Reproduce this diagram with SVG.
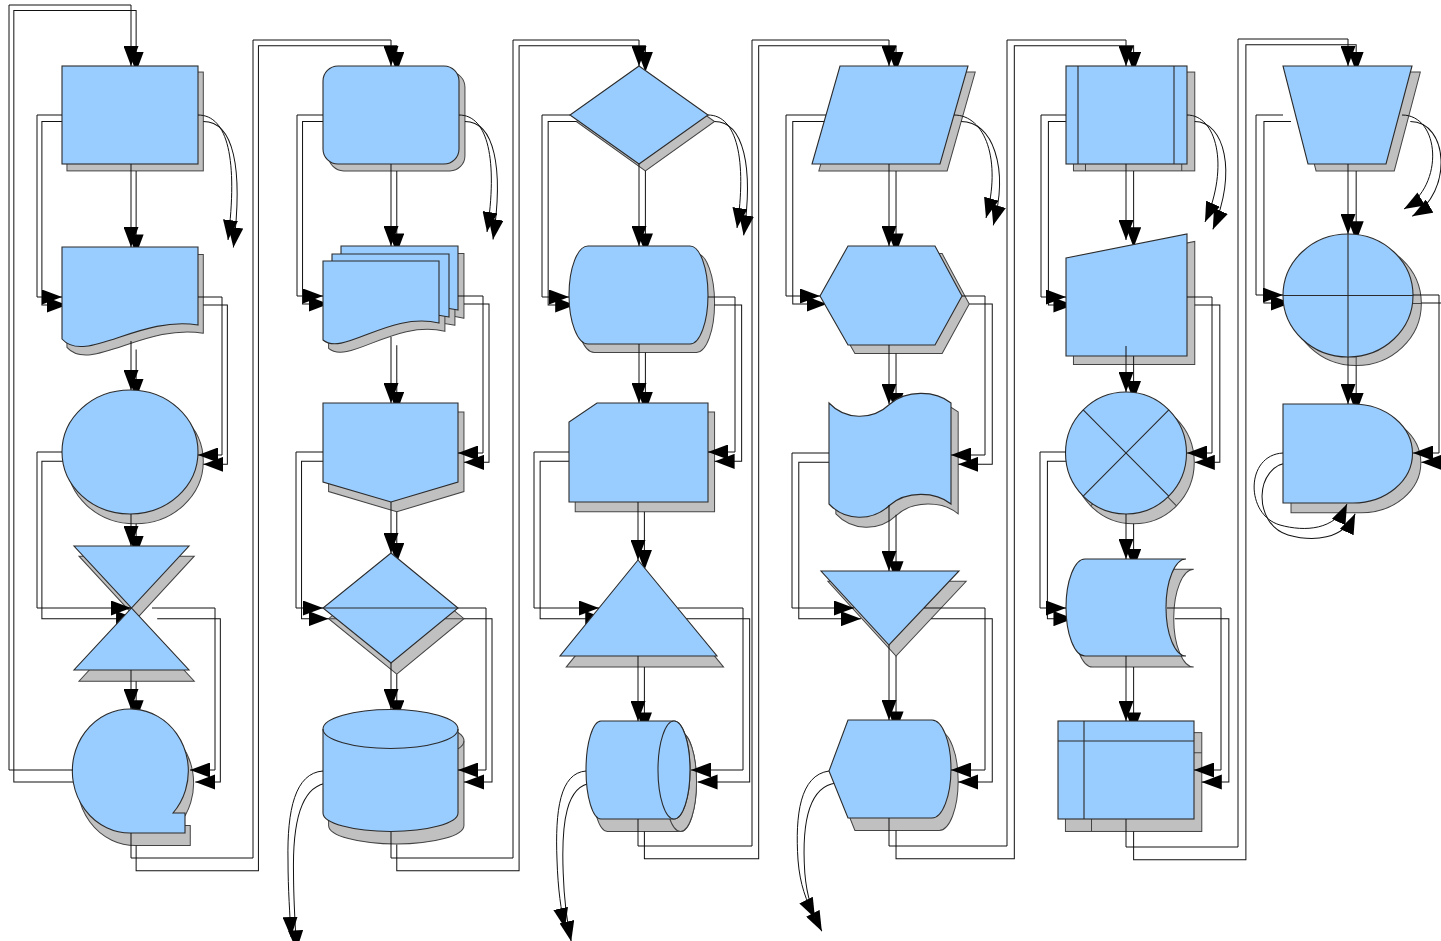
<svg xmlns="http://www.w3.org/2000/svg" xmlns:xlink="http://www.w3.org/1999/xlink" width="1441" height="941" viewBox="0 0 1441 941">
<defs>
<style>
.conn{fill:none;stroke:#111;stroke-width:1;marker-end:url(#arr)}
.det{fill:none}
</style>
<marker id="arr" markerUnits="userSpaceOnUse" markerWidth="20" markerHeight="15" viewBox="0 0 20 15" refX="20" refY="7.5" orient="auto">
<path d="M0,0 L20,7.5 L0,15 Z" fill="#000" stroke="none"/>
</marker>
</defs>
<rect width="1441" height="941" fill="#ffffff"/>
<use href="#diagram" xlink:href="#diagram" transform="matrix(1.0025,0,0,1.0085,4.8,5.5)" fill="#c0c0c0" stroke="#444444"/>
<g fill="#99ccff" stroke="#2b2b2b" stroke-width="1.1">
<g id="diagram">
<g id="nodes">
<g id="c1n1"><rect x="62" y="66" width="136" height="98"/></g>
<g id="c1n2"><path d="M62,247 H198 V325 C140,315 85,365 62,339 Z"/></g>
<g id="c1n3"><ellipse cx="130" cy="452" rx="68" ry="62"/></g>
<g id="c1n4"><path d="M74,546 H189 L74,670 H189 Z"/></g>
<g id="c1n5"><path d="M131,833 A58,62 0 1 1 173,813 H185 V833 Z"/></g>

<g id="c2n1"><rect x="323" y="66" width="136" height="98" rx="15" ry="15"/></g>
<g id="c2n2">
<path d="M341,246 H458 V310 C407,298 361,343 341,326 Z"/>
<path d="M332,254 H449 V317 C398,305 352,350 332,333 Z"/>
<path d="M323,261 H439 V323 C389,311 343,357 323,340 Z"/>
</g>
<g id="c2n3"><path d="M323,403 H458 V482 L391,502 L323,482 Z"/></g>
<g id="c2n4"><path d="M391,553 L458,608 L391,663 L323,608 Z"/><path class="det" d="M323,608 H458"/></g>
<g id="c2n5"><path d="M323,729 A67.5,19.5 0 0 1 458,729 V813 A67.5,18.5 0 0 1 323,813 Z"/><path class="det" d="M323,729 A67.5,19.5 0 0 0 458,729"/></g>

<g id="c3n1"><path d="M639,66 L708,115 L639,164 L570,115 Z"/></g>
<g id="c3n2"><path d="M588,246 H690 A18,49 0 0 1 690,344 H588 A19,49 0 0 1 588,246 Z"/></g>
<g id="c3n3"><path d="M597,403 H708 V502 H569 V422 Z"/></g>
<g id="c3n4"><path d="M638,560 L717,656 H560 Z"/></g>
<g id="c3n5"><path d="M601,721 H674 A16,49 0 0 1 674,819 H601 A15,49 0 0 1 601,721 Z"/><ellipse cx="674" cy="770" rx="16" ry="49"/></g>

<g id="c4n1"><path d="M840,66 H968 L940,164 H812 Z"/></g>
<g id="c4n2"><path d="M848,246 H935 L962,296 L935,345 H848 L820,296 Z"/></g>
<g id="c4n3"><path d="M829,403 C845,420 872,421 890,404 C906,390 935,390 951,403 V504 C935,491 906,491 890,505 C872,522 845,521 829,504 Z"/></g>
<g id="c4n4"><path d="M821,571 H959 L889,645 Z"/></g>
<g id="c4n5"><path d="M829,771 L848,720 H932 A19,49 0 0 1 932,818 H848 Z"/></g>

<g id="c5n1"><rect x="1066" y="66" width="121" height="98"/><path class="det" d="M1078,66 V164 M1174,66 V164"/></g>
<g id="c5n2"><path d="M1066,258 L1187,234 V356 H1066 Z"/></g>
<g id="c5n3"><ellipse cx="1126" cy="453" rx="60.5" ry="61"/><path class="det" d="M1083.2,409.9 L1168.8,496.1 M1168.8,409.9 L1083.2,496.1"/></g>
<g id="c5n4"><path d="M1085,559 H1186 A20,48.5 0 0 0 1186,656 H1085 A19,48.5 0 0 1 1085,559 Z"/></g>
<g id="c5n5"><rect x="1058" y="721" width="136" height="98"/><path class="det" d="M1058,741 H1194 M1084,721 V819"/></g>

<g id="c6n1"><path d="M1283,66 H1412 L1386,164 H1308 Z"/></g>
<g id="c6n2"><ellipse cx="1348" cy="295.5" rx="65" ry="61.5"/><path class="det" d="M1348,234 V357 M1283,295.5 H1413"/></g>
<g id="c6n3"><path d="M1283,404 H1353 A59.5,49.5 0 0 1 1353,503 H1283 Z"/></g>
</g>
<g id="connectors">
<path class="conn" d="M131,164 V247"/>
<path class="conn" d="M62,115 H37 V297 H62"/>
<path class="conn" d="M198,115 C228,115 238,160 228,240"/>
<path class="conn" d="M198,297 H222 V455 H198"/>
<path class="conn" d="M131,341 V390"/>
<path class="conn" d="M62,452 H37 V608 H131"/>
<path class="conn" d="M131,514 V546"/>
<path class="conn" d="M152,608 H215 V770 H190"/>
<path class="conn" d="M131,670 V709"/>
<path class="conn" d="M73,770 H9 V5 H131 V66"/>
<path class="conn" d="M131,833 V858 H253 V40 H391 V66"/>

<path class="conn" d="M391,164 V246"/>
<path class="conn" d="M323,115 H297 V296 H323"/>
<path class="conn" d="M459,115 C488,115 498,160 487,232"/>
<path class="conn" d="M458,296 H483 V453 H458"/>
<path class="conn" d="M391,337 V403"/>
<path class="conn" d="M323,452 H296 V608 H323"/>
<path class="conn" d="M391,502 V553"/>
<path class="conn" d="M458,608 H486 V770 H458"/>
<path class="conn" d="M391,663 V709"/>
<path class="conn" d="M323,771 C295,773 287,810 288,860 C288,890 290,915 291,937"/>
<path class="conn" d="M391,832 V858 H513 V40 H639 V66"/>

<path class="conn" d="M639,164 V246"/>
<path class="conn" d="M570,115 H542 V297 H569"/>
<path class="conn" d="M708,115 C737,115 747,160 737,228"/>
<path class="conn" d="M708,297 H735 V452 H708"/>
<path class="conn" d="M639,344 V403"/>
<path class="conn" d="M569,452 H534 V608 H599"/>
<path class="conn" d="M638,502 V560"/>
<path class="conn" d="M678,608 H743 V770 H691"/>
<path class="conn" d="M638,656 V721"/>
<path class="conn" d="M586,771 C560,773 555,810 557,860 C558,890 561,910 565,928"/>
<path class="conn" d="M638,819 V846 H752 V40 H889 V66"/>

<path class="conn" d="M889,164 V246"/>
<path class="conn" d="M826,115 H786 V296 H820"/>
<path class="conn" d="M954,115 C985,115 1002,160 986,218"/>
<path class="conn" d="M962,296 H985 V455 H951"/>
<path class="conn" d="M889,345 V404"/>
<path class="conn" d="M829,453 H792 V608 H854"/>
<path class="conn" d="M889,505 V571"/>
<path class="conn" d="M924,608 H985 V770 H951"/>
<path class="conn" d="M889,645 V720"/>
<path class="conn" d="M829,771 C800,775 795,815 798,860 C800,885 806,900 815,918"/>
<path class="conn" d="M889,818 V846 H1007 V40 H1126 V66"/>

<path class="conn" d="M1126,164 V240"/>
<path class="conn" d="M1066,115 H1041 V297 H1066"/>
<path class="conn" d="M1187,115 C1216,115 1230,165 1205,222"/>
<path class="conn" d="M1187,297 H1212 V453 H1187"/>
<path class="conn" d="M1126,346 V392"/>
<path class="conn" d="M1066,452 H1040 V608 H1066"/>
<path class="conn" d="M1126,514 V559"/>
<path class="conn" d="M1167,608 H1221 V770 H1194"/>
<path class="conn" d="M1126,656 V721"/>
<path class="conn" d="M1126,819 V847 H1238 V39 H1348 V66"/>

<path class="conn" d="M1348,164 V234"/>
<path class="conn" d="M1283,115 H1256 V295 H1283"/>
<path class="conn" d="M1402,115 C1440,115 1445,185 1404,209"/>
<path class="conn" d="M1413,295 H1439 V453 H1413"/>
<path class="conn" d="M1348,357 V404"/>
<path class="conn" d="M1283,453 C1245,455 1245,515 1280,525 C1305,532 1335,530 1347,504"/>
</g>
</g>
</g>
</svg>
